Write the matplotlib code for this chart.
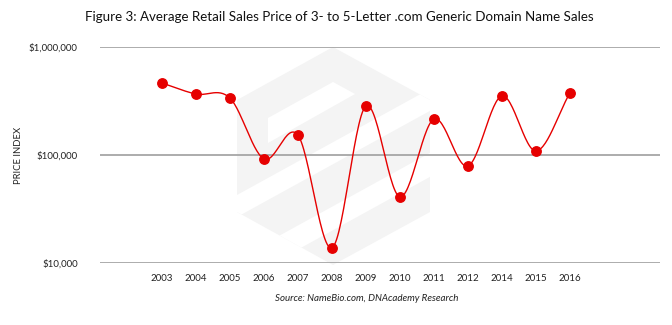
import numpy as np
import matplotlib
matplotlib.use("Agg")
import matplotlib.pyplot as plt
from matplotlib.patches import Polygon
from matplotlib.ticker import FixedLocator, FixedFormatter

# Average retail sale price per year (USD)
years = ["2003", "2004", "2005", "2006", "2007", "2008", "2009",
         "2010", "2011", "2012", "2014", "2015", "2016"]
avg_price = [464000, 367000, 337000, 92000, 153000, 13800, 284000,
             41000, 215000, 79000, 352000, 109000, 375000]

y_ticks = [1e4, 1e5, 1e6]
y_tick_labels = ["$10,000", "$100,000", "$1,000,000"]

RED = "#e60000"
GRID = "#a6a6a6"
plt.rcParams["font.family"] = ["Lato", "DejaVu Sans"]


def smooth_curve(x, y, steps=30):
    # Catmull-Rom spline through the points (done in log space for the y axis)
    x = np.asarray(x, float)
    y = np.asarray(y, float)
    px = np.concatenate([[2 * x[0] - x[1]], x, [2 * x[-1] - x[-2]]])
    py = np.concatenate([[2 * y[0] - y[1]], y, [2 * y[-1] - y[-2]]])
    xs, ys = [], []
    t = np.linspace(0, 1, steps)
    for i in range(1, len(px) - 2):
        for p, out in ((px, xs), (py, ys)):
            p0, p1, p2, p3 = p[i - 1], p[i], p[i + 1], p[i + 2]
            out.extend(0.5 * ((2 * p1) + (-p0 + p2) * t
                              + (2 * p0 - 5 * p1 + 4 * p2 - p3) * t ** 2
                              + (-p0 + 3 * p1 - 3 * p2 + p3) * t ** 3))
    return np.array(xs), np.array(ys)


fig = plt.figure(figsize=(6.72, 3.25), dpi=100)

# background logo, drawn in pixel units on a full-figure axes
bg = fig.add_axes([0, 0, 1, 1], zorder=0)
bg.set_xlim(0, 672)
bg.set_ylim(325, 0)
bg.axis("off")
hexagon = Polygon([(333, 47), (430, 100), (430, 212), (333, 265), (237, 212), (237, 100)],
                  closed=True, facecolor="#f4f4f4", edgecolor="none")
bg.add_patch(hexagon)
slope = -0.55
for top, thick in ((195, 22), (259, 24)):
    x0, x1 = 200, 470
    band = Polygon([(x0, top + slope * (x0 - 237)), (x1, top + slope * (x1 - 237)),
                    (x1, top + thick + slope * (x1 - 237)), (x0, top + thick + slope * (x0 - 237))],
                   closed=True, facecolor="white", edgecolor="none")
    bg.add_patch(band)
    band.set_clip_path(hexagon)
bg.add_patch(Polygon([(268, 118), (333, 82), (355, 94), (268, 143)],
                     closed=True, facecolor="white", edgecolor="none"))

ax = fig.add_axes([100 / 672, 1 - 263 / 325, 560 / 672, 216 / 325], zorder=1)
ax.patch.set_alpha(0)

idx = np.arange(len(years))
sx, sy = smooth_curve(idx, np.log10(avg_price))
ax.plot(sx, 10 ** sy, color=RED, lw=1.0, zorder=3)
ax.plot(idx, avg_price, "o", color=RED, ms=6.8, zorder=4)

ax.set_yscale("log")
ax.set_ylim(1e4, 1e6)
ax.set_xlim(-1.82, 14.65)
ax.yaxis.set_major_locator(FixedLocator(y_ticks))
ax.yaxis.set_major_formatter(FixedFormatter(y_tick_labels))
ax.yaxis.set_minor_locator(FixedLocator([]))
ax.set_xticks(idx)
ax.set_xticklabels(years)
ax.tick_params(axis="both", length=0, labelsize=7, colors="#222222")
ax.tick_params(axis="y", pad=16)
ax.tick_params(axis="x", pad=8)
for s in ax.spines.values():
    s.set_visible(False)
ax.grid(axis="y", color=GRID, lw=1.3)
ax.set_axisbelow(True)

fig.text(0.027, 0.523, "PRICE INDEX", rotation=90, ha="center", va="center",
         fontsize=6.8, color="#222222")
fig.text(0.505, 0.948, "Figure 3: Average Retail Sales Price of 3- to 5-Letter .com Generic Domain Name Sales",
         ha="center", va="center", fontsize=9.6, color="#111111")
fig.text(0.545, 0.083, "Source: NameBio.com, DNAcademy Research", ha="center", va="center",
         fontsize=7, style="italic", color="#222222")

fig.savefig("out.png", dpi=100)
